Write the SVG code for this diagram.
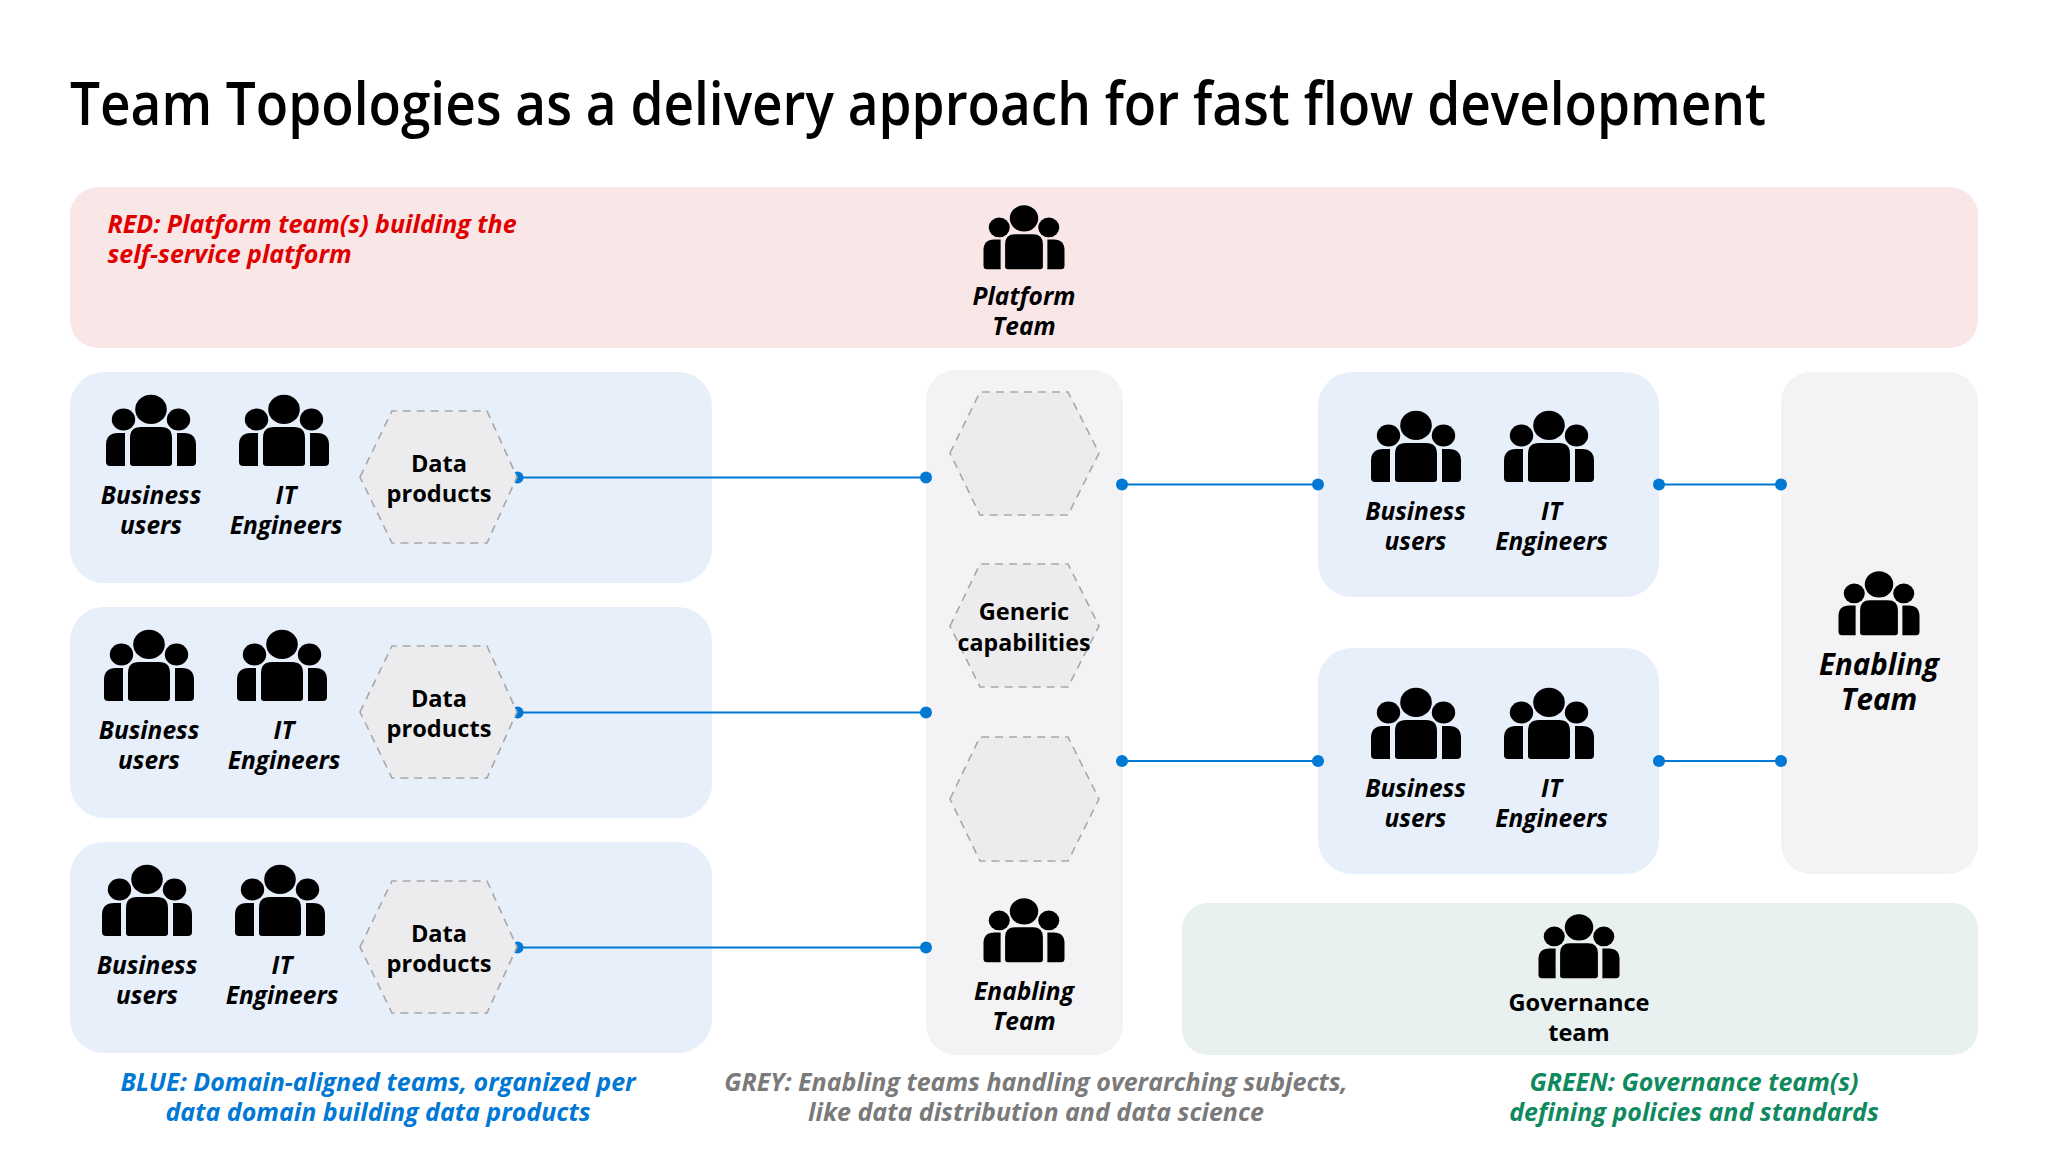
<svg xmlns="http://www.w3.org/2000/svg" width="2048" height="1152" viewBox="0 0 2048 1152">
<defs>
<g id="people"><ellipse cx="0" cy="0.4" rx="15.8" ry="14.6"/><ellipse cx="-27.5" cy="10.5" rx="11.7" ry="11"/><ellipse cx="27.5" cy="10.5" rx="11.7" ry="11"/><path d="M-10 18H10Q21 18 21 29V54Q21 57 18 57H-18Q-21 57-21 54V29Q-21 18-10 18Z"/><path d="M-26 24V57H-41Q-45 57-45 53V36Q-45 24-33 24Z"/><path d="M26 24V57H41Q45 57 45 53V36Q45 24 33 24Z"/></g>
</defs>
<style>
text{font-family:"Open Sans","Noto Sans","Liberation Sans",sans-serif;text-anchor:middle;fill:#000;font-weight:700}
.lb{font-size:24.5px;font-style:italic}
.nl{font-size:23.6px;font-weight:700}
.cap{font-size:25px;font-style:italic}
.hex{fill:#ececee;stroke:#a8a8a8;stroke-width:1.6;stroke-dasharray:8 6}
.dot{fill:#0078d4}
.ln{stroke:#0078d4;stroke-width:2.2;fill:none}
</style>
<rect width="2048" height="1152" fill="#fff"/>
<text x="918" y="125" style="font-size:59px;font-weight:600" textLength="1696" lengthAdjust="spacingAndGlyphs">Team Topologies as a delivery approach for fast flow development</text>
<g id="panels">
<rect id="panel-red" x="70" y="187" width="1908" height="161" rx="28" fill="#f9e6e6"/>
<rect id="panel-blue-1" x="70" y="372" width="642" height="211" rx="34" fill="#e7effb"/>
<rect id="panel-blue-2" x="70" y="607" width="642" height="211" rx="34" fill="#e7effb"/>
<rect id="panel-blue-3" x="70" y="842" width="642" height="211" rx="34" fill="#e7effb"/>
<rect id="panel-grey-center" x="926" y="370" width="197" height="685" rx="30" fill="#f3f2f5"/>
<rect id="panel-blue-4" x="1318" y="372" width="341" height="225" rx="34" fill="#e7effb"/>
<rect id="panel-blue-5" x="1318" y="648" width="341" height="226" rx="34" fill="#e7effb"/>
<rect id="panel-grey-right" x="1781" y="372" width="197" height="502" rx="30" fill="#f3f2f5"/>
<rect id="panel-green" x="1182" y="903" width="796" height="152" rx="26" fill="#e8f1ef"/>
</g>
<g id="connectors">
<path class="ln" d="M517 477.5H926M517 712.5H926M517 947.5H926M1122 484.5H1318M1122 761H1318M1659 484.5H1781M1659 761H1781"/>
<g class="dot"><circle cx="517.5" cy="477.5" r="6"/><circle cx="926" cy="477.5" r="6"/><circle cx="517.5" cy="712.5" r="6"/><circle cx="926" cy="712.5" r="6"/><circle cx="517.5" cy="947.5" r="6"/><circle cx="926" cy="947.5" r="6"/><circle cx="1122" cy="484.5" r="6"/><circle cx="1318" cy="484.5" r="6"/><circle cx="1122" cy="761" r="6"/><circle cx="1318" cy="761" r="6"/><circle cx="1659" cy="484.5" r="6"/><circle cx="1781" cy="484.5" r="6"/><circle cx="1659" cy="761" r="6"/><circle cx="1781" cy="761" r="6"/></g>
</g>
<g id="platform-team"><use href="#people" transform="translate(1024 218) scale(.9)"/><text class="lb" x="1024" y="305">Platform</text><text class="lb" x="1024" y="335">Team</text></g>
<g id="business-1"><use href="#people" x="151" y="409"/><text class="lb" x="151" y="504">Business</text><text class="lb" x="151" y="534">users</text></g>
<g id="it-1"><use href="#people" x="284" y="409"/><text class="lb" x="286" y="504">IT</text><text class="lb" x="286" y="534">Engineers</text></g>
<g id="data-1"><polygon class="hex" points="360,477 392,411 487,411 517,477 487,543 392,543"/><text class="nl" x="439" y="472">Data</text><text class="nl" x="439" y="502">products</text></g>
<g id="business-2"><use href="#people" x="149" y="644"/><text class="lb" x="149" y="739">Business</text><text class="lb" x="149" y="769">users</text></g>
<g id="it-2"><use href="#people" x="282" y="644"/><text class="lb" x="284" y="739">IT</text><text class="lb" x="284" y="769">Engineers</text></g>
<g id="data-2"><polygon class="hex" points="360,712 392,646 487,646 517,712 487,778 392,778"/><text class="nl" x="439" y="707">Data</text><text class="nl" x="439" y="737">products</text></g>
<g id="business-3"><use href="#people" x="147" y="879"/><text class="lb" x="147" y="974">Business</text><text class="lb" x="147" y="1004">users</text></g>
<g id="it-3"><use href="#people" x="280" y="879"/><text class="lb" x="282" y="974">IT</text><text class="lb" x="282" y="1004">Engineers</text></g>
<g id="data-3"><polygon class="hex" points="360,947 392,881 487,881 517,947 487,1013 392,1013"/><text class="nl" x="439" y="942">Data</text><text class="nl" x="439" y="972">products</text></g>
<g id="hex-top"><polygon class="hex" points="950,453 980,392 1068,392 1099,453 1068,515 980,515"/></g>
<g id="generic"><polygon class="hex" points="950,626 980,564 1068,564 1099,626 1068,687 980,687"/><text class="nl" x="1024" y="620">Generic</text><text class="nl" x="1024" y="651" style="font-size:23.2px">capabilities</text></g>
<g id="hex-bottom"><polygon class="hex" points="950,799 980,737 1068,737 1099,799 1068,861 980,861"/></g>
<g id="enabling-center"><use href="#people" transform="translate(1024 911) scale(.9)"/><text class="lb" x="1024" y="1000">Enabling</text><text class="lb" x="1024" y="1030">Team</text></g>
<g id="business-4"><use href="#people" x="1416" y="425"/><text class="lb" x="1415.5" y="520">Business</text><text class="lb" x="1415.5" y="550">users</text></g>
<g id="it-4"><use href="#people" x="1549" y="425"/><text class="lb" x="1551.5" y="520">IT</text><text class="lb" x="1551.5" y="550">Engineers</text></g>
<g id="business-5"><use href="#people" x="1416" y="702"/><text class="lb" x="1415.5" y="797">Business</text><text class="lb" x="1415.5" y="827">users</text></g>
<g id="it-5"><use href="#people" x="1549" y="702"/><text class="lb" x="1551.5" y="797">IT</text><text class="lb" x="1551.5" y="827">Engineers</text></g>
<g id="enabling-right"><use href="#people" transform="translate(1879 584) scale(.9)"/><text x="1879" y="675" style="font-size:29.5px;font-style:italic">Enabling</text><text x="1879" y="710" style="font-size:29.5px;font-style:italic">Team</text></g>
<g id="governance"><use href="#people" transform="translate(1579 927) scale(.9)"/><text class="nl" x="1579" y="1011">Governance</text><text class="nl" x="1579" y="1041">team</text></g>
<g id="captions">
<text class="cap" x="107.5" y="233" style="text-anchor:start;fill:#e00000">RED: Platform team(s) building the</text>
<text class="cap" x="107.5" y="263" style="text-anchor:start;fill:#e00000">self-service platform</text>
<text class="cap" x="378" y="1091" style="fill:#0078d4">BLUE: Domain-aligned teams, organized per</text>
<text class="cap" x="378" y="1121" style="fill:#0078d4">data domain building data products</text>
<text class="cap" x="1036" y="1091" style="fill:#7a7a7a">GREY: Enabling teams handling overarching subjects,</text>
<text class="cap" x="1036" y="1121" style="fill:#7a7a7a">like data distribution and data science</text>
<text class="cap" x="1694" y="1091" style="fill:#0f8a5f">GREEN: Governance team(s)</text>
<text class="cap" x="1694" y="1121" style="fill:#0f8a5f">defining policies and standards</text>
</g>
</svg>
